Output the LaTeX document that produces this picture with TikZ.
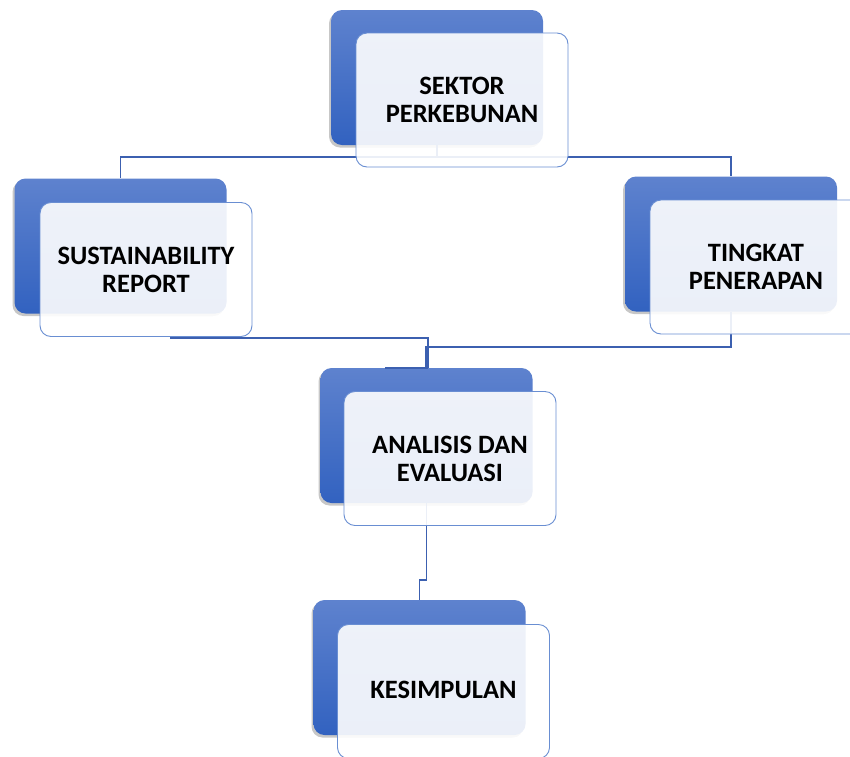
\documentclass[tikz,border=0pt]{standalone}
\usepackage{fontspec}
\setmainfont{Carlito}
\usetikzlibrary{shadows,calc}
\definecolor{btop}{RGB}{94,130,206}
\definecolor{bbot}{RGB}{50,98,192}
\definecolor{lnc}{RGB}{60,96,176}
\definecolor{wbord}{RGB}{105,142,210}
\begin{document}
\begin{tikzpicture}[x=1pt,y=-1pt,
  backbox/.style={rectangle, rounded corners=11pt, minimum width=212pt, minimum height=135pt,
    top color=btop, bottom color=bbot, draw=none,
    drop shadow={shadow xshift=-2pt, shadow yshift=-2.5pt, opacity=0.22, fill=black}},
  frontbox/.style={rectangle, rounded corners=11pt, minimum width=212pt, minimum height=134pt,
    fill=white, fill opacity=0.9, text opacity=1, draw=wbord, line width=0.9pt,
    align=center, font=\bfseries\fontsize{26.5}{28}\selectfont, text=black},
  conn/.style={draw=lnc, line width=1.8pt}]
\useasboundingbox (0,0) rectangle (850,756);
\clip (0,0) rectangle (850,756);
% back boxes
\node[backbox] (b1) at (437,77.5) {};
\node[backbox] (b2) at (120.5,246) {};
\node[backbox] (b3) at (731,244) {};
\node[backbox] (b4) at (426.5,435.5) {};
\node[backbox] (b5) at (419.5,667.5) {};
% connectors
\coordinate (j1) at (437,157);
\draw[conn] (b1.south) -- (j1) -| (b2.north);
\draw[conn] (j1) -| (b3.north);
\coordinate (s2) at (170,338);
\draw[conn] (s2) -| ([xshift=1.5pt]b4.north);
\coordinate (s3) at (731,347);
\draw[conn] (b3.south) -- (s3) -| ([xshift=-0.5pt]b4.north);
\draw[conn, line width=2.2pt] ([xshift=-41.5pt]b4.north) -- ([xshift=1.5pt]b4.north);
\coordinate (k1) at (426.5,580);
\coordinate (k2) at (419.5,580);
\draw[conn] (b4.south) -- (k1) -- (k2) -- (b5.north);
% front boxes
\node[frontbox] (w1) at (462,100) {SEKTOR\\PERKEBUNAN};
\node[frontbox] (w2) at (146,269.5) {SUSTAINABILITY\\REPORT};
\node[frontbox] (w3) at (756,267) {TINGKAT\\PENERAPAN};
\node[frontbox] (w4) at (450,458.5) {ANALISIS DAN\\EVALUASI};
\node[frontbox] (w5) at (443.5,691.5) {\raisebox{3pt}{KESIMPULAN}};
\end{tikzpicture}
\end{document}
